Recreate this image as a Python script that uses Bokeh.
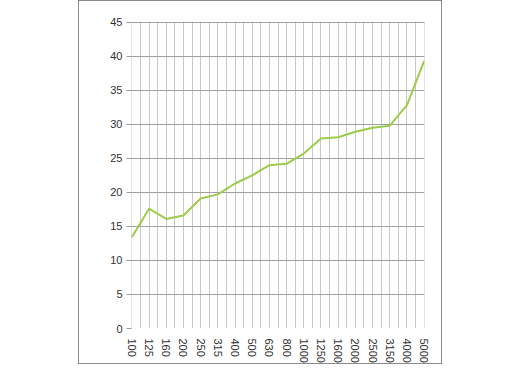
from bokeh.plotting import figure
from bokeh.models import FixedTicker, Range1d
from bokeh.embed import file_html
from bokeh.resources import INLINE

freqs = ["100", "125", "160", "200", "250", "315", "400", "500", "630", "800",
         "1000", "1250", "1600", "2000", "2500", "3150", "4000", "5000"]
values = [13.4, 17.6, 16.1, 16.6, 19.1, 19.7, 21.3, 22.5, 24.0, 24.2,
          25.7, 27.9, 28.1, 28.9, 29.5, 29.8, 32.8, 39.3]
y_ticks = [0, 5, 10, 15, 20, 25, 30, 35, 40, 45]

xs = list(range(len(freqs)))

p = figure(width=364, height=364, output_backend="svg", toolbar_location=None,
           x_range=Range1d(-0.02, len(freqs) - 1 + 0.02),
           y_range=Range1d(0, 45.1),
           min_border_left=52, min_border_right=19, min_border_top=20,
           min_border_bottom=37)
p.styles = {"margin-left": "78px", "margin-top": "0px",
            "border": "1px solid #8a8a8a"}
p.outline_line_color = None
p.background_fill_color = "white"
p.border_fill_color = "white"

p.line(xs, values, line_color="#9ccc4a", line_width=2)

p.xaxis.ticker = FixedTicker(ticks=xs)
p.xaxis.major_label_overrides = {i: f for i, f in enumerate(freqs)}
p.xaxis.major_label_orientation = "vertical"
p.yaxis.ticker = FixedTicker(ticks=y_ticks)

for ax in (p.xaxis, p.yaxis):
    ax.axis_line_color = None
    ax.minor_tick_line_color = None
    ax.major_label_text_font = "Liberation Sans"
    ax.major_label_text_font_size = "11px"
    ax.major_label_text_color = "#333333"
    ax.major_label_standoff = 4
p.xaxis.major_tick_line_color = None
p.yaxis.major_tick_line_color = "#999999"
p.yaxis.major_tick_out = 5
p.yaxis.major_tick_in = 0

half_ticks = [i * 0.5 for i in range(2 * (len(freqs) - 1) + 1)]
p.xgrid.ticker = FixedTicker(ticks=half_ticks)
p.xgrid.grid_line_color = "#c8c8c8"
p.xgrid.grid_line_width = 1
p.ygrid.ticker = FixedTicker(ticks=y_ticks)
p.ygrid.grid_line_color = "#a0a0a0"
p.ygrid.grid_line_width = 1

open("out.html", "w").write(file_html(p, INLINE))
